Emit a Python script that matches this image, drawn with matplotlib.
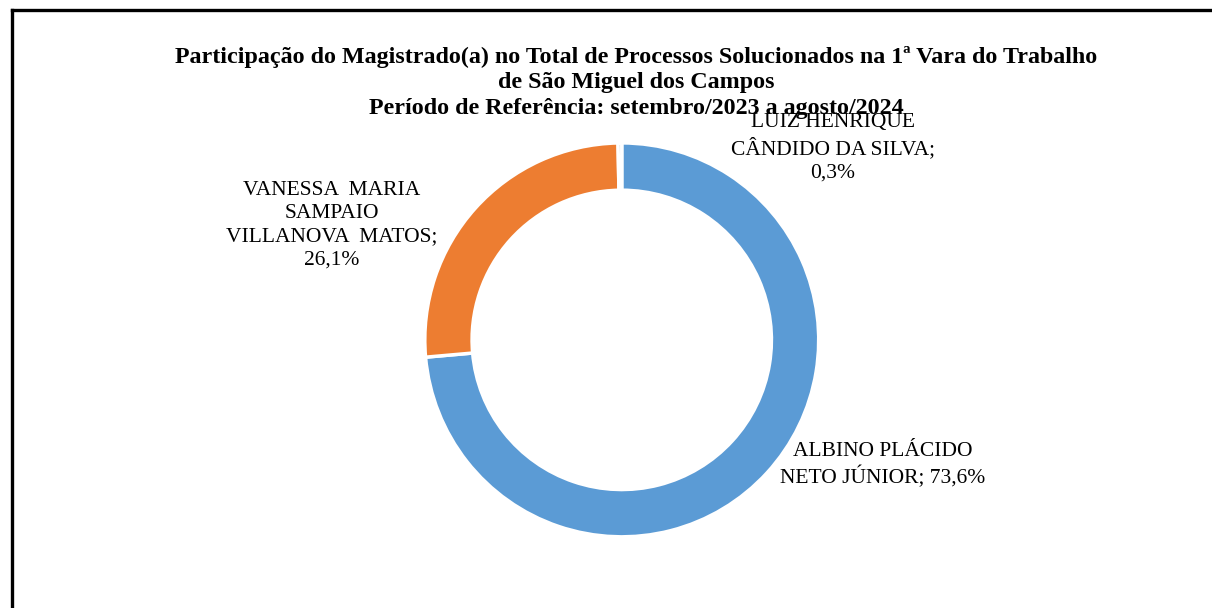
# -*- coding: utf-8 -*-
"""
Donut chart: share of each judge in the processes solved.
"""

import matplotlib
matplotlib.use('Agg')
import matplotlib.pyplot as plt
from matplotlib.lines import Line2D

magistrados = ['ALBINO PLÁCIDO\nNETO JÚNIOR; 73,6%',
               'VANESSA  MARIA\nSAMPAIO\nVILLANOVA  MATOS;\n26,1%',
               'LUIZ HENRIQUE\nCÂNDIDO DA SILVA;\n0,3%']
percentuais = [73.6, 26.1, 0.3]
cores = ['#5B9BD5', '#ED7D31', '#A5A5A5']

titulo = ('Participação do Magistrado(a) no Total de Processos Solucionados na 1ª Vara do Trabalho\n'
          'de São Miguel dos Campos\n'
          'Período de Referência: setembro/2023 a agosto/2024')

plt.rcParams['font.family'] = ['Liberation Serif', 'DejaVu Serif']

Fig = plt.figure(figsize=(12.12, 6.08), dpi=100)
Ax = Fig.add_axes([0.513 - 0.1625, 0.441 - 0.324, 0.325, 0.648])
Ax.pie(percentuais, colors=cores, startangle=90, counterclock=False,
       radius=1.0, wedgeprops=dict(width=0.24, edgecolor='white', linewidth=2.5))
Ax.set_xlim(-1, 1)
Ax.set_ylim(-1, 1)
Ax.set_aspect('equal')
Ax.axis('off')

Fig.text(0.525, 0.865, titulo, ha='center', va='center', fontsize=17.3,
         fontweight='bold', linespacing=1.28)

# data labels
Fig.text(0.274, 0.63, magistrados[1], ha='center', va='center', fontsize=15.5, linespacing=1.3)
Fig.text(0.687, 0.757, magistrados[2], ha='center', va='center', fontsize=15.5, linespacing=1.3)
Fig.text(0.7285, 0.235, magistrados[0], ha='center', va='center', fontsize=15.5, linespacing=1.3)

# frame
Fig.add_artist(Line2D([0.0099, 1.0], [0.9836, 0.9836], color='black', linewidth=2.4))
Fig.add_artist(Line2D([0.0099, 0.0099], [0.0, 0.9836], color='black', linewidth=2.4))

Fig.savefig('out.png', dpi=100)
